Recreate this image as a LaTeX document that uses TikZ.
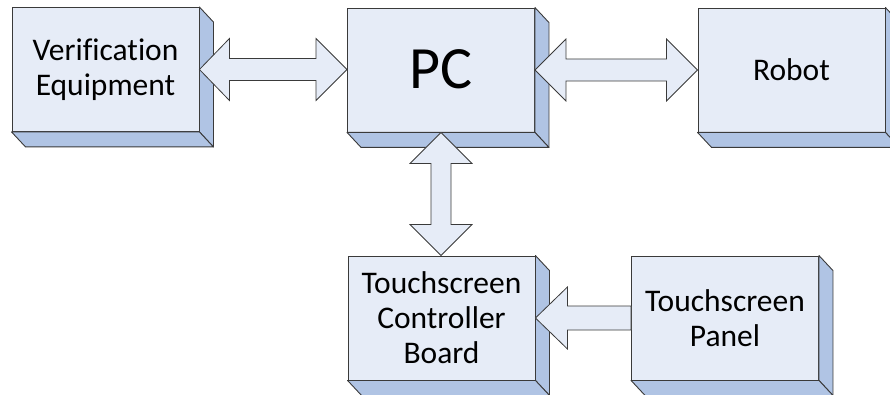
\documentclass[tikz,border=0pt]{standalone}
\usepackage{fontspec}
\setmainfont{Carlito}[Ligatures=NoCommon]
\usetikzlibrary{calc}

\definecolor{facefill}{HTML}{E6ECF7}
\definecolor{sidefill}{HTML}{B0C4E4}
\definecolor{edgecol}{HTML}{3A3A3A}

\tikzset{
  blk/.style={draw=edgecol, line width=0.9pt, fill=facefill,
    minimum width=187pt, minimum height=124pt, inner sep=0pt,
    align=center, font=\fontsize{31.5}{35}\selectfont},
  depthface/.style={draw=edgecol, line width=0.9pt, fill=sidefill, line join=round},
  blockarrow/.style={draw=edgecol, line width=0.8pt, fill=facefill, line join=miter},
}

% extruded right and bottom faces of a block
\newcommand\extrude[1]{%
  \filldraw[depthface] (#1.north east) -- ++(14,15) -- ($(#1.south east)+(14,15)$)
    -- (#1.south east) -- cycle;
  \filldraw[depthface] (#1.south west) -- (#1.south east) -- ++(14,15)
    -- ($(#1.south west)+(14,15)$) -- cycle;
}

\begin{document}
\begin{tikzpicture}[x=1pt, y=-1pt]
  \useasboundingbox (0,0) rectangle (890,395);
  \clip (0,0) rectangle (890,395);

  % blocks
  \node[blk] (ver)   at (105.5,69.5) {Verification\\Equipment};
  \node[blk, font=\fontsize{60}{72}\selectfont] (pc) at (441,70) {\raisebox{2pt}{PC}};
  \node[blk] (robot) at (791.5,70) {Robot};
  \node[blk] (board) at (441.5,318) {Touchscreen\\Controller\\Board};
  \node[blk] (panel) at (725,318) {Touchscreen\\Panel};

  \extrude{ver}
  \extrude{pc}
  \extrude{robot}
  \extrude{board}
  \extrude{panel}

  % horizontal double arrow: Verification Equipment <-> PC
  \draw[blockarrow] let \p1=(ver.east), \p2=(pc.west) in
    (\p1) -- (\x1+30pt,\y1+31pt) -- (\x1+30pt,\y1+11pt) -- (\x2-31pt,\y1+11pt)
    -- (\x2-31pt,\y1+31pt) -- (\x2,\y1) -- (\x2-31pt,\y1-31pt) -- (\x2-31pt,\y1-11pt)
    -- (\x1+30pt,\y1-11pt) -- (\x1+30pt,\y1-31pt) -- cycle;

  % horizontal double arrow: PC <-> Robot
  \draw[blockarrow] let \p1=(pc.east), \p2=(robot.west) in
    (\p1) -- (\x1+31pt,\y1+31pt) -- (\x1+31pt,\y1+11pt) -- (\x2-31pt,\y1+11pt)
    -- (\x2-31pt,\y1+31pt) -- (\x2,\y1) -- (\x2-31pt,\y1-31pt) -- (\x2-31pt,\y1-11pt)
    -- (\x1+31pt,\y1-11pt) -- (\x1+31pt,\y1-31pt) -- cycle;

  % vertical double arrow: PC <-> Touchscreen Controller Board
  \draw[blockarrow] let \p1=(pc.south), \p2=(board.north) in
    (\p1) -- (\x1+31pt,\y1-31pt) -- (\x1+10pt,\y1-31pt) -- (\x1+10pt,\y2+31pt)
    -- (\x1+31pt,\y2+31pt) -- (\x1,\y2) -- (\x1-31pt,\y2+31pt) -- (\x1-10pt,\y2+31pt)
    -- (\x1-10pt,\y1-31pt) -- (\x1-31pt,\y1-31pt) -- cycle;

  % single arrow: Touchscreen Panel -> Touchscreen Controller Board
  \draw[blockarrow] let \p1=(board.east), \p2=(panel.west) in
    (\p1) -- (\x1+32pt,\y1+31pt) -- (\x1+32pt,\y1+12pt) -- (\x2,\y1+12pt)
    -- (\x2,\y1-12pt) -- (\x1+32pt,\y1-12pt) -- (\x1+32pt,\y1-31pt) -- cycle;
\end{tikzpicture}
\end{document}
